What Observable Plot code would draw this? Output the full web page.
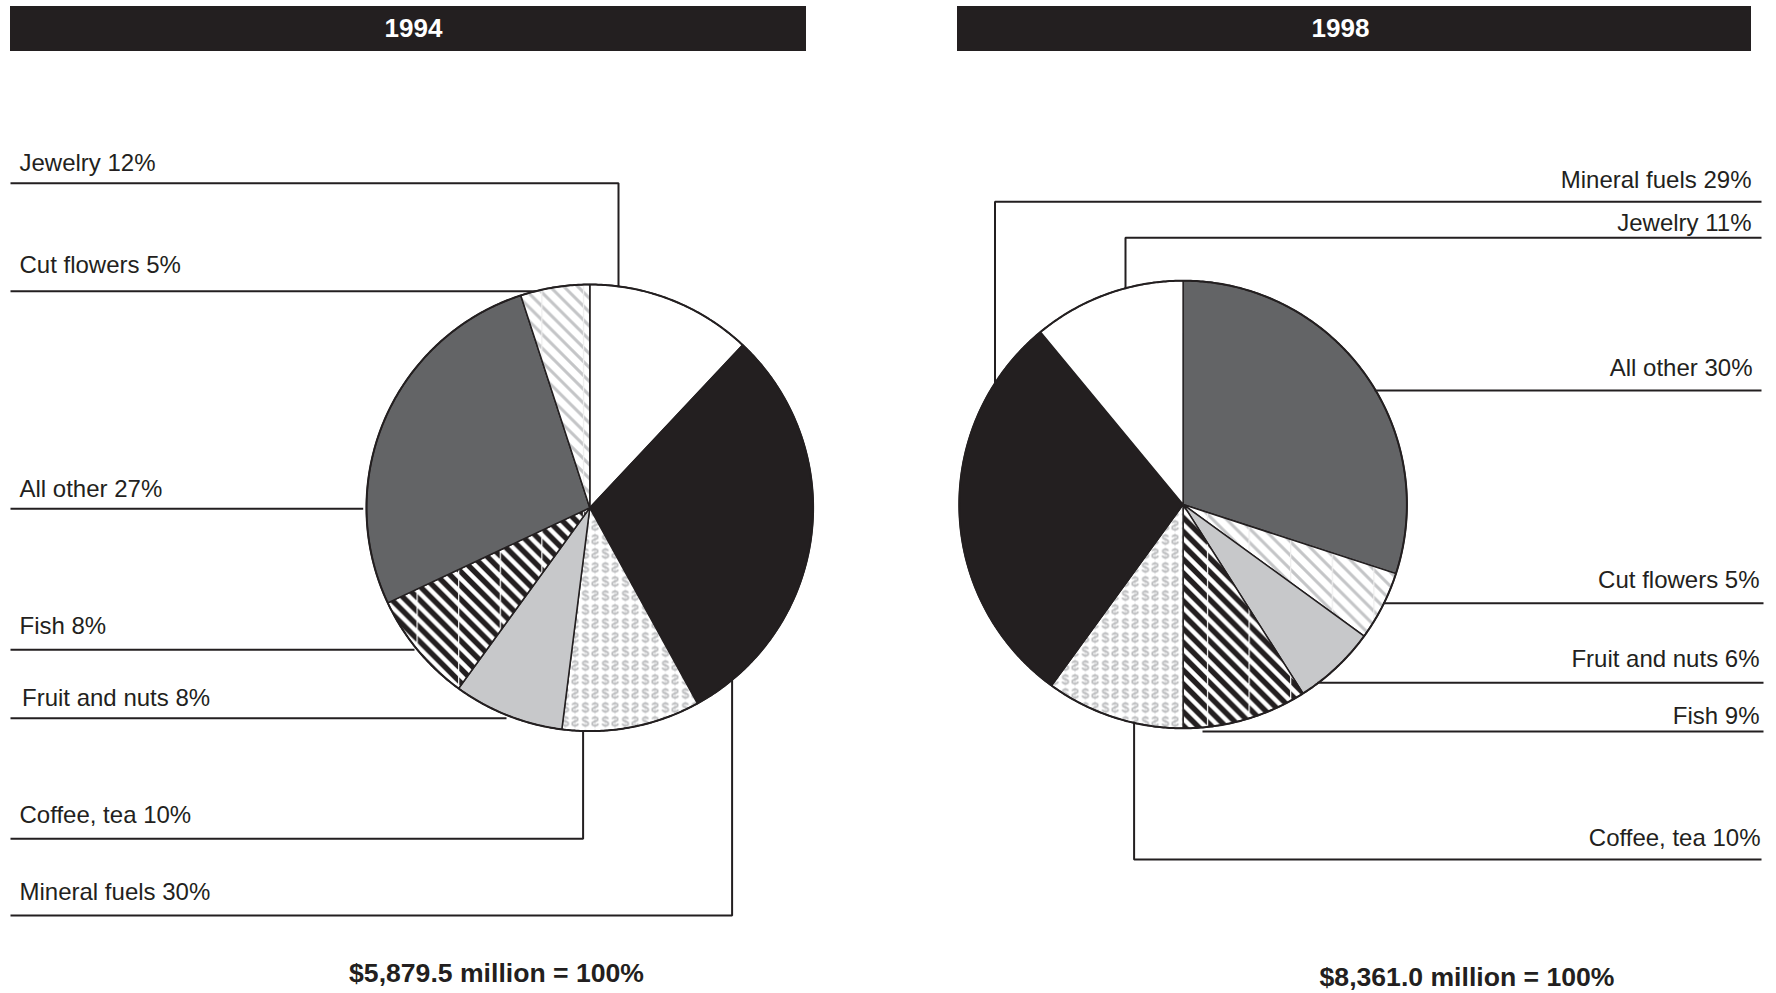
<!DOCTYPE html>
<html>
<head>
<meta charset="utf-8">
<script src="https://cdn.jsdelivr.net/npm/d3@7"></script>
<script src="https://cdn.jsdelivr.net/npm/@observablehq/plot@0.6"></script>
<style>
  html, body { margin: 0; padding: 0; background: #fff; overflow: hidden; }
  #chart svg { display: block; }
</style>
</head>
<body>
<div id="chart"></div>
<script>
// ---------------- DATA ----------------
const years = ["1994", "1998"];
const totalsMillions = [5879.5, 8361.0];

const categories1994 = ["Jewelry", "Mineral fuels", "Coffee, tea", "Fruit and nuts", "Fish", "All other", "Cut flowers"];
const shares1994 = [12, 30, 10, 8, 8, 27, 5];

const categories1998 = ["All other", "Cut flowers", "Fruit and nuts", "Fish", "Coffee, tea", "Mineral fuels", "Jewelry"];
const shares1998 = [30, 5, 6, 9, 10, 29, 11];

// ---------------- STYLE ----------------
const INK = "#231f20";
const FONT = "Liberation Sans, Arial, Helvetica, sans-serif";
const fillOf = {
  "Jewelry": "#ffffff",
  "Mineral fuels": INK,
  "Coffee, tea": "url(#pat-dollar)",
  "Fruit and nuts": "#c7c8ca",
  "Fish": "url(#pat-fish)",
  "All other": "#636466",
  "Cut flowers": "url(#pat-flowers)"
};

// ---------------- LAYOUT ----------------
const W = 1776, H = 993;
const layout = [
  {
    cx: 589.3, cy: 507.3, r: 223.3,
    bar: [10, 806], titleX: 413, totalX: 496, totalY: 981.7, side: "left",
    labels: {
      "Jewelry":        {tx: 19,   ty: 170.7, lineY: 182.7, elbow: 618},
      "Cut flowers":    {tx: 19,   ty: 272.7, lineY: 290.7, edge: true},
      "All other":      {tx: 19,   ty: 496.7, lineY: 508.3, stop: 361.7},
      "Fish":           {tx: 19,   ty: 633.3, lineY: 649.3, stop: 413},
      "Fruit and nuts": {tx: 21.5, ty: 705.7, lineY: 717.7, stop: 505},
      "Coffee, tea":    {tx: 19,   ty: 822.3, lineY: 838.3, elbow: 582.6},
      "Mineral fuels":  {tx: 19,   ty: 899.3, lineY: 915,   elbow: 731.6}
    },
    outer: 11
  },
  {
    cx: 1182.6, cy: 504, r: 223.8,
    bar: [957, 1751], titleX: 1340, totalX: 1466.5, totalY: 985, side: "right",
    labels: {
      "Mineral fuels":  {tx: 1751, ty: 187.3, lineY: 201.3, elbow: 994.5, outer: 1760},
      "Jewelry":        {tx: 1751, ty: 230.7, lineY: 237.3, elbow: 1125,  outer: 1760},
      "All other":      {tx: 1752, ty: 375,   lineY: 390,   edge: true,   outer: 1760},
      "Cut flowers":    {tx: 1759, ty: 587.7, lineY: 602.7, edge: true,   outer: 1762},
      "Fruit and nuts": {tx: 1759, ty: 666.7, lineY: 682.3, edge: true,   outer: 1762},
      "Fish":           {tx: 1759, ty: 723.3, lineY: 731,   stop: 1203,   outer: 1762},
      "Coffee, tea":    {tx: 1760, ty: 845,   lineY: 859,   elbow: 1133.6, outer: 1760}
    }
  }
];

const datasets = [
  categories1994.map((c, i) => ({cat: c, share: shares1994[i]})),
  categories1998.map((c, i) => ({cat: c, share: shares1998[i]}))
];

// ---------------- GEOMETRY ----------------
const pie = d3.pie().sort(null).value(d => d.share);
const marks = [];

const barRows = [], titleRows = [], totalRows = [], labelRows = [], leaderPts = [];

datasets.forEach((data, k) => {
  const L = layout[k];
  const arcs = pie(data);
  const pt = a => ({x: L.cx + L.r * Math.sin(a), y: L.cy - L.r * Math.cos(a)});

  arcs.forEach(a => {
    const pts = [{x: L.cx, y: L.cy}];
    const n = Math.max(2, Math.ceil((a.endAngle - a.startAngle) / 0.01));
    for (let i = 0; i <= n; i++) pts.push(pt(a.startAngle + (a.endAngle - a.startAngle) * i / n));
    marks.push(Plot.line(pts, {
      x: "x", y: "y", curve: "linear-closed",
      fill: fillOf[a.data.cat], stroke: INK, strokeWidth: 1.5, strokeLinejoin: "miter"
    }));
  });

  // outline
  const ring = d3.range(0, 721).map(i => pt(i / 720 * 2 * Math.PI));
  marks.push(Plot.line(ring, {x: "x", y: "y", curve: "linear-closed", fill: "none", stroke: INK, strokeWidth: 2}));

  barRows.push({x1: L.bar[0], x2: L.bar[1], y1: 6, y2: 51});
  titleRows.push({x: L.titleX, y: 36, text: years[k]});
  totalRows.push({x: L.totalX, y: L.totalY, text: "$" + d3.format(",.1f")(totalsMillions[k]) + " million = 100%"});

  data.forEach(d => {
    const s = L.labels[d.cat];
    labelRows.push({x: s.tx, y: s.ty, text: `${d.cat} ${d.share}%`, anchor: L.side === "left" ? "start" : "end"});
    const id = `${k}-${d.cat}`;
    const edgeX = y => {
      const dy = y - L.cy;
      const dx = Math.sqrt(Math.max(0, L.r * L.r - dy * dy));
      return L.side === "left" ? L.cx - dx : L.cx + dx;
    };
    const edgeY = x => {
      const dx = x - L.cx;
      const dy = Math.sqrt(Math.max(0, L.r * L.r - dx * dx));
      return s.lineY < L.cy ? L.cy - dy : L.cy + dy;
    };
    let inner;
    const pts = [];
    if (s.elbow !== undefined) inner = s.elbow;
    else if (s.edge) inner = edgeX(s.lineY);
    else inner = s.stop;
    const outer = L.side === "left" ? L.outer : s.outer;
    pts.push({id, x: outer, y: s.lineY});
    pts.push({id, x: inner, y: s.lineY});
    if (s.elbow !== undefined) pts.push({id, x: inner, y: edgeY(inner)});
    leaderPts.push(...pts);
  });
});

marks.unshift(Plot.rect(barRows, {x1: "x1", x2: "x2", y1: "y1", y2: "y2", fill: INK}));
marks.push(Plot.line(leaderPts, {x: "x", y: "y", z: "id", stroke: INK, strokeWidth: 2, strokeLinecap: "square", strokeLinejoin: "miter"}));
marks.push(Plot.text(titleRows, {x: "x", y: "y", text: "text", fill: "#ffffff", fontSize: 26, fontWeight: "bold", fontFamily: FONT, textAnchor: "middle", lineAnchor: "bottom"}));
marks.push(Plot.text(labelRows.filter(d => d.anchor === "start"), {x: "x", y: "y", text: "text", fill: INK, fontSize: 24, fontFamily: FONT, textAnchor: "start", lineAnchor: "bottom"}));
marks.push(Plot.text(labelRows.filter(d => d.anchor === "end"), {x: "x", y: "y", text: "text", fill: INK, fontSize: 24, fontFamily: FONT, textAnchor: "end", lineAnchor: "bottom"}));
marks.push(Plot.text(totalRows, {x: "x", y: "y", text: "text", fill: INK, fontSize: 26.6, fontWeight: "bold", fontFamily: FONT, textAnchor: "middle", lineAnchor: "bottom"}));

const chart = Plot.plot({
  width: W, height: H,
  margin: 0,
  x: {domain: [0, W], range: [0, W], axis: null},
  y: {domain: [0, H], range: [0, H], axis: null},
  style: {background: "#ffffff", fontFamily: FONT, overflow: "visible"},
  marks
});

// ---------------- PATTERNS ----------------
const svgSel = d3.select(chart);
const defs = svgSel.insert("defs", ":first-child");
const P = 41.6 / 3;

function stripePattern(id, color, width, vlineColor) {
  const p = defs.append("pattern").attr("id", id).attr("patternUnits", "userSpaceOnUse")
    .attr("x", 0).attr("y", 0).attr("width", 3 * P).attr("height", P);
  p.append("rect").attr("width", 3 * P).attr("height", P).attr("fill", "#ffffff");
  for (let k = -1; k <= 3; k++) {
    p.append("line")
      .attr("x1", k * P - 3).attr("y1", -3)
      .attr("x2", k * P + P + 3).attr("y2", P + 3)
      .attr("stroke", color).attr("stroke-width", width);
  }
  p.append("line").attr("x1", 0.6).attr("y1", 0).attr("x2", 0.6).attr("y2", P)
    .attr("stroke", vlineColor).attr("stroke-width", 1.2);
}
stripePattern("pat-flowers", "#c4c5c7", 3, "#eeeeee");
stripePattern("pat-fish", INK, 5.4, "#ffffff");

const dp = defs.append("pattern").attr("id", "pat-dollar").attr("patternUnits", "userSpaceOnUse")
  .attr("width", 20).attr("height", 14);
dp.append("rect").attr("width", 20).attr("height", 14).attr("fill", "#ffffff");
dp.append("text").attr("x", 5).attr("y", 12).attr("text-anchor", "middle")
  .attr("font-family", FONT).attr("font-weight", "bold").attr("font-size", 14)
  .attr("fill", "#b9babc").text("$");
dp.append("text").attr("transform", "translate(14.5,0) scale(-1,1)").attr("x", 0).attr("y", 12)
  .attr("text-anchor", "middle").attr("font-family", FONT).attr("font-weight", "bold").attr("font-size", 14)
  .attr("fill", "#b9babc").text("$");

document.getElementById("chart").appendChild(chart);
</script>
</body>
</html>
